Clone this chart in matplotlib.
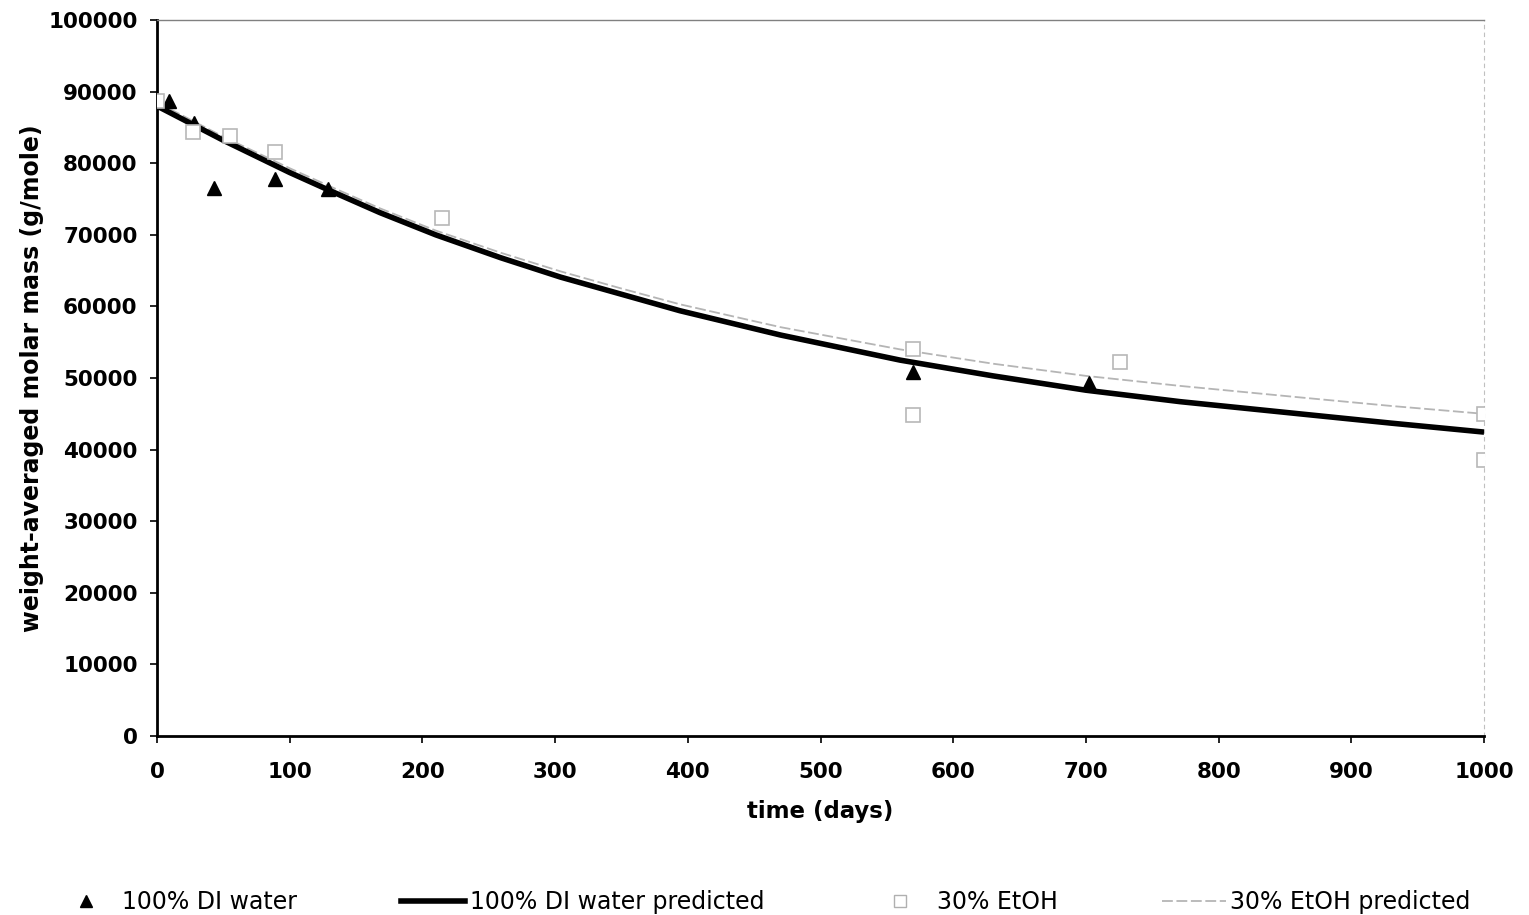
import matplotlib.pyplot as plt
from matplotlib.lines import Line2D

# measured points
di_days = [9, 28, 43, 89, 129, 570, 702]
di_mw = [88700, 85600, 76500, 77800, 76400, 50800, 49300]

etoh_days = [0, 27, 55, 89, 215, 570, 570, 726, 1000, 1000]
etoh_mw = [88700, 84300, 83800, 81600, 72300, 54100, 44800, 52200, 45000, 38500]

# predicted curves
pred_days = [0, 50, 100, 130, 168, 210, 259, 304, 350, 394, 470, 560, 630, 700, 771, 861, 930, 1000]
di_pred = [88000, 83200, 78700, 76200, 73100, 70000, 66800, 64100, 61700, 59400, 56000, 52500,
           50300, 48300, 46700, 45000, 43700, 42450]
etoh_pred = [88500, 83700, 79300, 76800, 73700, 70600, 67500, 64900, 62500, 60300, 57100, 54000,
             52000, 50300, 48900, 47300, 46100, 45000]

xticks = list(range(0, 1001, 100))
yticks = list(range(0, 100001, 10000))


def main():
    fig = plt.figure(figsize=(15.29, 9.15), dpi=100)
    ax = fig.add_axes([0.1027, 0.1956, 0.8679, 0.7825])

    ax.plot(pred_days, di_pred, color='black', lw=4, solid_capstyle='butt',
            solid_joinstyle='round', zorder=3)
    ax.plot(pred_days, etoh_pred, color='#b5b5b5', lw=1.3, ls=(0, (6, 2)), zorder=2)
    ax.plot(di_days, di_mw, ls='none', marker='^', ms=10, color='black', zorder=4)
    ax.plot(etoh_days, etoh_mw, ls='none', marker='s', ms=10, mfc='white',
            mec='#b8b8b8', mew=1.2, zorder=4)

    ax.set_xlim(0, 1000)
    ax.set_ylim(0, 100000)
    ax.set_xticks(xticks)
    ax.set_yticks(yticks)
    ax.tick_params(axis='both', labelsize=15.5, length=5, width=1.2)
    ax.tick_params(axis='x', pad=14)
    ax.tick_params(axis='y', pad=9)
    for lab in ax.get_xticklabels() + ax.get_yticklabels():
        lab.set_fontweight('bold')

    ax.spines['left'].set_linewidth(2)
    ax.spines['bottom'].set_linewidth(2)
    ax.spines['top'].set_color('#808080')
    ax.spines['top'].set_linewidth(1)
    ax.spines['right'].set_color('#c0c0c0')
    ax.spines['right'].set_linestyle((0, (3, 4)))

    ax.set_xlabel('time (days)', fontsize=16.5, fontweight='bold')
    ax.set_ylabel('weight-averaged molar mass (g/mole)', fontsize=17, fontweight='bold')
    ax.xaxis.set_label_coords(0.5, -0.089)
    ax.yaxis.set_label_coords(-0.085, 0.5)

    handles = [
        Line2D([], [], ls='none', marker='^', ms=8, color='black'),
        Line2D([], [], color='black', lw=4),
        Line2D([], [], ls='none', marker='s', ms=9, mfc='white', mec='#b0b0b0'),
        Line2D([], [], color='#b5b5b5', lw=1.3, ls=(0, (6, 2))),
    ]
    labels = ['100% DI water', '100% DI water predicted', '30% EtOH', '30% EtOH predicted']
    fig.legend(handles, labels, loc='lower left', ncol=4, frameon=False,
               bbox_to_anchor=(0.029, -0.009, 0.939, 0.035), mode='expand', borderaxespad=0,
               fontsize=17, handlelength=2.7, handletextpad=0.2)

    fig.savefig('out.png', dpi=100)


if __name__ == '__main__':
    main()
